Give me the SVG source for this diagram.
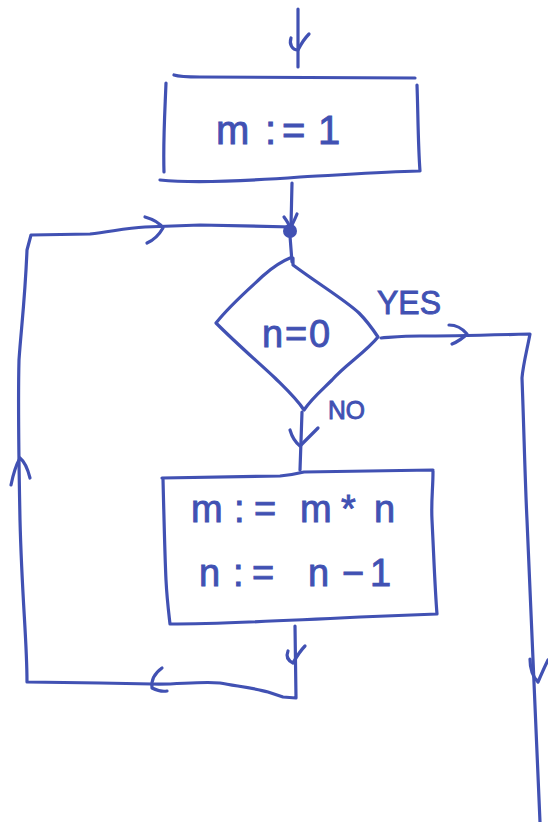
<svg xmlns="http://www.w3.org/2000/svg" width="548" height="822" viewBox="0 0 548 822">
  <style>
    .ink { fill: none; stroke: #4151b3; stroke-width: 3.2; stroke-linecap: round; stroke-linejoin: round; }
    .lbl { fill: #4151b3; stroke: #4151b3; stroke-width: 0.9; font-family: "Liberation Sans", "DejaVu Sans", sans-serif; }
  </style>
  <rect width="548" height="822" fill="#ffffff"/>

  <!-- connectors -->
  <g id="connectors" class="ink">
    <!-- entry arrow -->
    <path d="M298,9 L298,67"/>
    <path d="M291,38 C289,44 292,50 298,50 C301,44 305,38 309,34"/>
    <!-- start box to merge point -->
    <path d="M292,183 L291,226"/>
    <path d="M284,217 C287,221 289,224 290,228 M297,214 C295,219 293,223 291,227"/>
    <circle cx="290" cy="231" r="7" fill="#4151b3" stroke="none"/>
    <!-- merge point to decision -->
    <path d="M290,236 L292,262"/>
    <!-- loop back: box 2 down, left, up, right -->
    <path d="M295,626 L296,698 L283,697 L268,692 C255,688 235,686 220,683 C200,681 175,685 152,684 L100,683 L27,682 C27,640 22,600 20,520 C19,470 18,400 19,360 C21,330 25,300 27,250 L31,235 L90,234 C110,232 125,228 145,227 L200,225 L292,227"/>
    <!-- arrowheads on loop -->
    <path d="M288,651 C286,656 287,660 293,663 C297,656 300,651 305,646"/>
    <path d="M162,668 C155,673 151,680 152,688 C156,690 161,692 167,691"/>
    <path d="M11,485 C13,475 16,465 20,458 C25,462 28,470 30,478"/>
    <path d="M145,217 C152,219 159,222 163,228 C159,235 154,240 147,243"/>
    <!-- decision NO branch -->
    <path d="M302,412 L300,470"/>
    <path d="M290,430 C292,437 295,442 300,446 C306,440 312,434 318,428"/>
    <!-- decision YES branch -->
    <path d="M381,338 C395,337 405,336 420,336 C450,336 490,335 530,334 C527,350 523,365 522,378 C524,430 525,480 527,520 C530,600 535,700 540,822"/>
    <path d="M449,325 C456,325 462,328 467,334 C462,339 457,342 452,344"/>
    <path d="M530,659 C530,670 533,677 538,682 C541,675 544,668 548,660"/>
  </g>

  <!-- start assignment -->
  <g id="node-init">
    <path class="ink" d="M174,75 C180,77 190,77 200,77 L415,78 M166,83 C165,110 163,140 164,172 M417,85 C418,110 418,145 420,171 M160,180 C200,184 260,180 300,177 C340,175 380,172 419,171"/>
    <text class="lbl" y="144" font-size="40"><tspan x="216">m</tspan><tspan x="265">:</tspan><tspan x="282">=</tspan><tspan x="318">1</tspan></text>
  </g>

  <!-- loop condition -->
  <g id="node-decision">
    <path class="ink" d="M293,258 L293,265 C320,285 345,300 359,313 C366,320 372,328 378,337 C366,352 345,365 332,380 C322,390 312,398 304,410 C296,398 285,388 275,378 C258,362 238,345 216,323 C230,305 250,288 264,275 C272,268 280,262 290,258"/>
    <text class="lbl" y="347" font-size="38"><tspan x="262">n</tspan><tspan x="285">=</tspan><tspan x="309">0</tspan></text>
    <text class="lbl" x="377" y="314" font-size="34" textLength="64" lengthAdjust="spacingAndGlyphs">YES</text>
    <text class="lbl" x="328" y="419" font-size="25" textLength="37" lengthAdjust="spacingAndGlyphs">NO</text>
  </g>

  <!-- loop body -->
  <g id="node-body">
    <path class="ink" d="M162,478 L280,476 C290,475 296,474 304,472 L433,470 M163,479 C164,520 165,560 166,580 C167,600 169,615 170,624 M433,471 C433,490 431,500 432,520 C434,560 435,590 437,614 M170,624 C220,624 300,620 360,617 L437,614"/>
    <text class="lbl" y="522" font-size="38"><tspan x="191">m</tspan><tspan x="234">:</tspan><tspan x="254">=</tspan><tspan x="300">m</tspan><tspan x="341">*</tspan><tspan x="374">n</tspan></text>
    <text class="lbl" y="586" font-size="38"><tspan x="199">n</tspan><tspan x="233">:</tspan><tspan x="252">=</tspan><tspan x="308">n</tspan><tspan x="342">−</tspan><tspan x="370">1</tspan></text>
  </g>
</svg>
